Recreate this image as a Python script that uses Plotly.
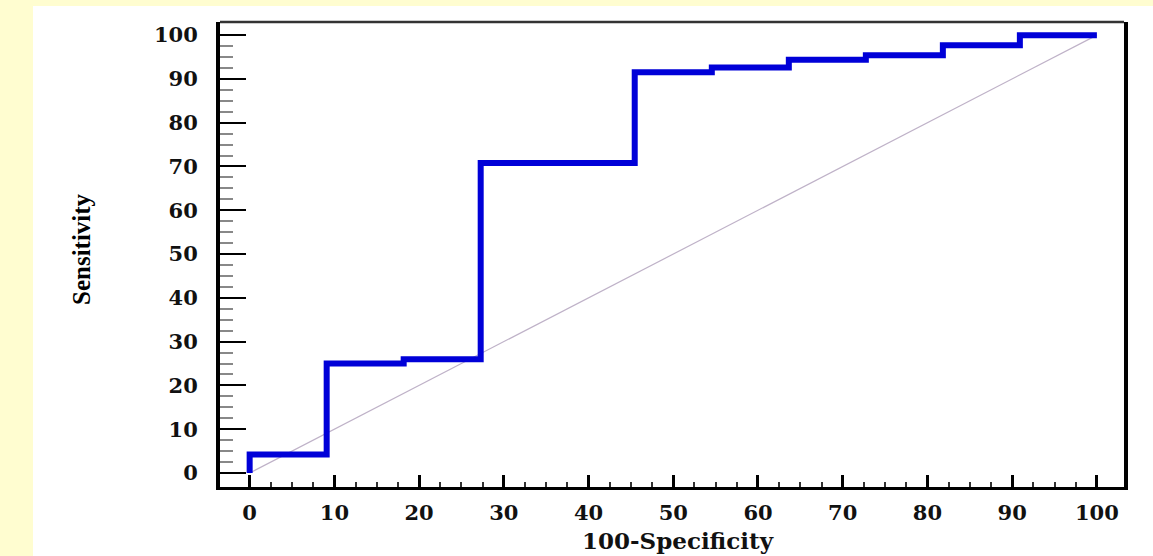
import plotly.graph_objects as go

# ROC data (100-Specificity vs Sensitivity)
fpr = [0, 0, 9.09, 18.18, 27.27, 45.45, 54.55, 63.64, 72.73, 81.82, 90.91, 100]
sens = [0, 4.2, 25, 26, 70.8, 91.5, 92.6, 94.4, 95.4, 97.7, 100, 100]
diag_x = [0, 100]
diag_y = [0, 100]
tick_vals = [0, 10, 20, 30, 40, 50, 60, 70, 80, 90, 100]
tick_text = [str(v) for v in tick_vals]
minor_vals = [v + d for v in tick_vals[:-1] for d in (2.5, 5, 7.5)]

W, H = 1153, 556
L, R, T, B = 220, 29, 22, 69
pw, ph = W - L - R, H - T - B

def px(xp):
    return (xp - L) / pw

def py(yp):
    return (H - B - yp) / ph

fig = go.Figure()
fig.add_trace(go.Scatter(x=diag_x, y=diag_y, mode="lines",
                         line=dict(color="#BFB2C8", width=1.2),
                         hoverinfo="skip", showlegend=False))
fig.add_trace(go.Scatter(x=fpr, y=sens, mode="lines", line_shape="hv",
                         line=dict(color="#0000D8", width=6),
                         showlegend=False))

tickfont = dict(family="DejaVu Serif", size=21, color="#111111", weight="bold")

fig.update_layout(
    width=W, height=H,
    margin=dict(l=L, r=R, t=T, b=B, pad=0),
    paper_bgcolor="#FFFDD0",
    plot_bgcolor="white",
    xaxis=dict(range=[-3.5, 103.2], tickvals=tick_vals, ticktext=tick_text,
               ticks="inside", ticklen=12, tickwidth=2.5, tickcolor="black",
               minor=dict(tickmode="array", tickvals=minor_vals, ticks="inside",
                          ticklen=5, tickwidth=1.5, tickcolor="#333333",
                          showgrid=False),
               showgrid=False, zeroline=False,
               showline=True, linecolor="black", linewidth=3, mirror=False,
               tickfont=tickfont, ticklabelstandoff=5),
    yaxis=dict(range=[-3.2, 103.0], tickvals=tick_vals, ticktext=tick_text,
               ticks="inside", ticklen=26, tickwidth=2, tickcolor="black",
               minor=dict(tickmode="array", tickvals=minor_vals, ticks="inside",
                          ticklen=13, tickwidth=1.5, tickcolor="#888888",
                          showgrid=False),
               showgrid=False, zeroline=False,
               showline=True, linecolor="black", linewidth=4, mirror=True,
               tickfont=tickfont, ticklabelstandoff=14),
    shapes=[
        dict(type="rect", xref="paper", yref="paper", layer="below",
             x0=px(33), x1=px(W + 5), y0=py(H + 5), y1=py(6),
             fillcolor="white", line=dict(width=0)),
        dict(type="line", xref="paper", yref="paper",
             x0=0, x1=1, y0=1, y1=1, line=dict(color="#333333", width=2.5)),
    ],
    annotations=[
        dict(text="Sensitivity", xref="paper", yref="paper",
             x=px(81), y=py(249), showarrow=False, textangle=-90,
             font=dict(family="Liberation Serif", size=25, color="black",
                       weight="bold"),
             xanchor="center", yanchor="middle"),
        dict(text="100-Specificity", xref="paper", yref="paper",
             x=px(678), y=py(540), showarrow=False,
             font=dict(family="DejaVu Serif", size=23, color="#111111", weight="bold"),
             xanchor="center", yanchor="middle"),
    ],
)

fig.write_html("out.html")
